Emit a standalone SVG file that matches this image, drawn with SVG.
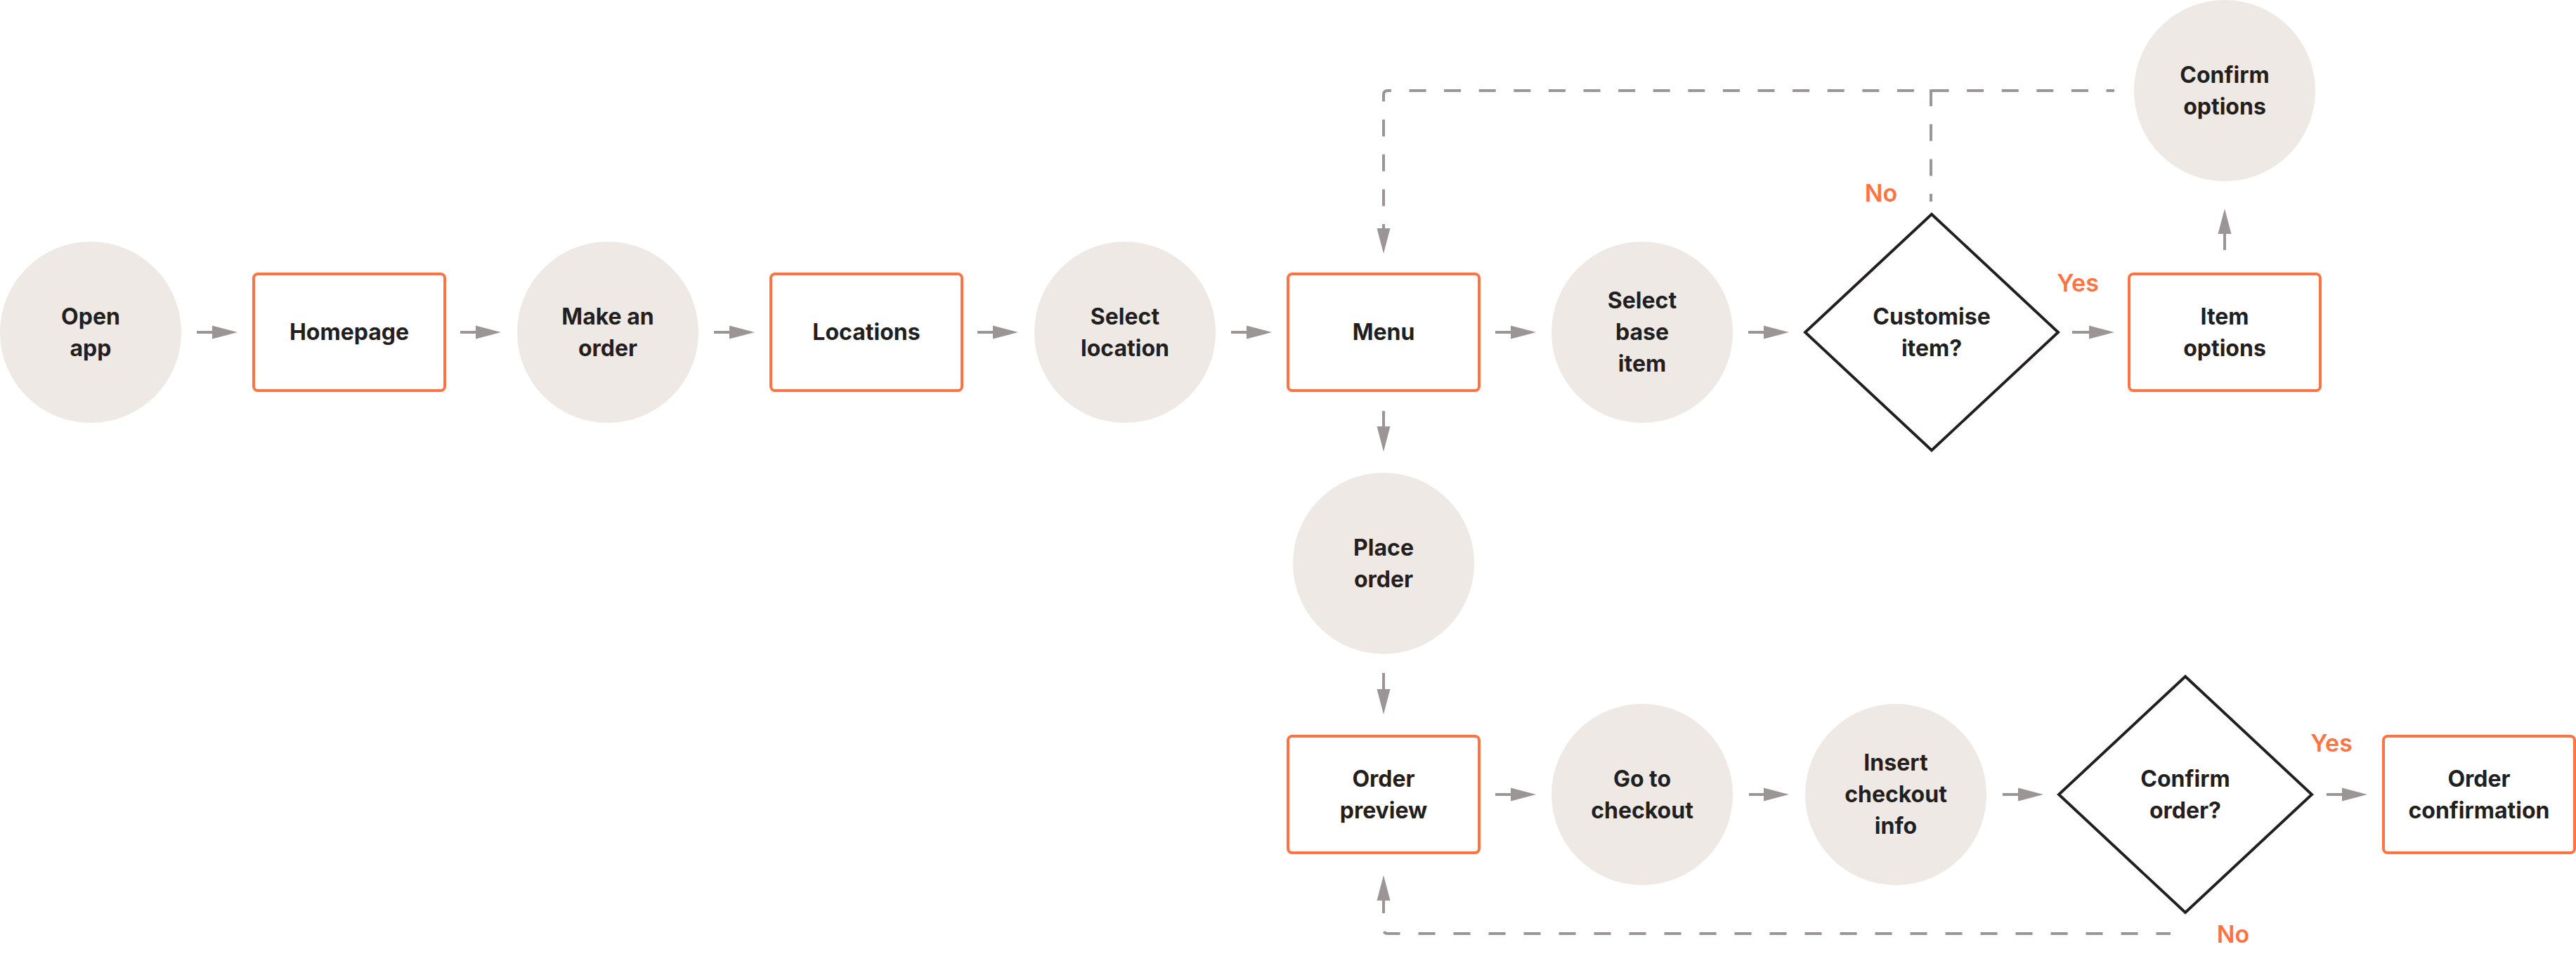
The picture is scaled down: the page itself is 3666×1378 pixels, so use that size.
<svg xmlns="http://www.w3.org/2000/svg" width="3666" height="1378" viewBox="0 0 3666 1378">
<defs>
<style>
.bg{fill:#ffffff}
.circ{fill:#EEE9E4}
.box{fill:#ffffff;stroke:#FF7241;stroke-width:4}
.dia{fill:#ffffff;stroke:#231F20;stroke-width:4;stroke-linejoin:miter}
.t{font-family:Inter,"Noto Sans","Liberation Sans",sans-serif;font-weight:700;font-size:32px;fill:#231F20;text-anchor:middle}
.lbl{font-family:Inter,"Noto Sans","Liberation Sans",sans-serif;font-weight:600;font-size:34px;fill:#FF7241;text-anchor:middle}
.arr{stroke:#9C9595;stroke-width:4;fill:none;marker-end:url(#ah)}
.dash{stroke:#9C9595;stroke-width:4;fill:none}
</style>
<marker id="ah" markerUnits="userSpaceOnUse" markerWidth="36" markerHeight="20" refX="0" refY="10" orient="auto" viewBox="0 0 36 20">
<path d="M0,0.5 L36,10 L0,19.5 Z" fill="#9C9595"/>
</marker>
</defs>
<rect class="bg" x="0" y="0" width="3666" height="1378"/>

<g id="connectors">
<line class="arr" x1="280" y1="473" x2="302" y2="473"/>
<line class="arr" x1="655" y1="473" x2="677" y2="473"/>
<line class="arr" x1="1016" y1="473" x2="1038" y2="473"/>
<line class="arr" x1="1391" y1="473" x2="1413" y2="473"/>
<line class="arr" x1="1752" y1="473" x2="1774" y2="473"/>
<line class="arr" x1="2128" y1="473" x2="2150" y2="473"/>
<line class="arr" x1="2488" y1="473" x2="2510" y2="473"/>
<line class="arr" x1="2949" y1="473" x2="2973" y2="473"/>
<line class="arr" x1="2128" y1="1131" x2="2150" y2="1131"/>
<line class="arr" x1="2489" y1="1131" x2="2510" y2="1131"/>
<line class="arr" x1="2850" y1="1131" x2="2872" y2="1131"/>
<line class="arr" x1="3311" y1="1131" x2="3333" y2="1131"/>
<line class="arr" x1="1969" y1="585" x2="1969" y2="607"/>
<line class="arr" x1="1969" y1="958" x2="1969" y2="981"/>
<line class="arr" x1="3166" y1="356" x2="3166" y2="333"/>
<line class="arr" x1="1969" y1="1300" x2="1969" y2="1282"/>
<line class="arr" x1="1969" y1="319" x2="1969" y2="325"/>
<path class="dash" d="M1969 319 V135 Q1969 129 1975 129 H3009" stroke-dasharray="24 25.6" stroke-dashoffset="24"/>
<path class="dash" d="M2748 287 V127" stroke-dasharray="24 25.6" stroke-dashoffset="13"/>
<path class="dash" d="M1969 1300 V1323 Q1969 1329 1975 1329 H3089" stroke-dasharray="24 26" stroke-dashoffset="24"/>
<text class="lbl" x="2677" y="287">No</text>
<text class="lbl" x="2957" y="415">Yes</text>
<text class="lbl" x="3318" y="1070">Yes</text>
<text class="lbl" x="3178" y="1342">No</text>
</g>

<g id="open-app"><circle class="circ" cx="129" cy="473" r="129"/><text class="t" x="129" y="462">Open<tspan x="129" dy="45">app</tspan></text></g>
<g id="homepage"><rect class="box" x="361" y="390" width="272" height="166" rx="6"/><text class="t" x="497" y="484">Homepage</text></g>
<g id="make-order"><circle class="circ" cx="865" cy="473" r="129"/><text class="t" x="865" y="462">Make an<tspan x="865" dy="45">order</tspan></text></g>
<g id="locations"><rect class="box" x="1097" y="390" width="272" height="166" rx="6"/><text class="t" x="1233" y="484">Locations</text></g>
<g id="select-location"><circle class="circ" cx="1601" cy="473" r="129"/><text class="t" x="1601" y="462">Select<tspan x="1601" dy="45">location</tspan></text></g>
<g id="menu"><rect class="box" x="1833" y="390" width="272" height="166" rx="6"/><text class="t" x="1969" y="484">Menu</text></g>
<g id="select-base-item"><circle class="circ" cx="2337" cy="473" r="129"/><text class="t" x="2337" y="439">Select<tspan x="2337" dy="45">base</tspan><tspan x="2337" dy="45">item</tspan></text></g>
<g id="customise-item"><polygon class="dia" points="2749,305 2929,473 2749,641 2569,473"/><text class="t" x="2749" y="462">Customise<tspan x="2749" dy="45">item?</tspan></text></g>
<g id="item-options"><rect class="box" x="3030" y="390" width="272" height="166" rx="6"/><text class="t" x="3166" y="462">Item<tspan x="3166" dy="45">options</tspan></text></g>
<g id="confirm-options"><circle class="circ" cx="3166" cy="129" r="129"/><text class="t" x="3166" y="118">Confirm<tspan x="3166" dy="45">options</tspan></text></g>
<g id="place-order"><circle class="circ" cx="1969" cy="802" r="129"/><text class="t" x="1969" y="791">Place<tspan x="1969" dy="45">order</tspan></text></g>
<g id="order-preview"><rect class="box" x="1833" y="1048" width="272" height="166" rx="6"/><text class="t" x="1969" y="1120">Order<tspan x="1969" dy="45">preview</tspan></text></g>
<g id="go-to-checkout"><circle class="circ" cx="2337" cy="1131" r="129"/><text class="t" x="2337" y="1120">Go to<tspan x="2337" dy="45">checkout</tspan></text></g>
<g id="insert-checkout-info"><circle class="circ" cx="2698" cy="1131" r="129"/><text class="t" x="2698" y="1097">Insert<tspan x="2698" dy="45">checkout</tspan><tspan x="2698" dy="45">info</tspan></text></g>
<g id="confirm-order"><polygon class="dia" points="3110,963 3290,1131 3110,1299 2930,1131"/><text class="t" x="3110" y="1120">Confirm<tspan x="3110" dy="45">order?</tspan></text></g>
<g id="order-confirmation"><rect class="box" x="3392" y="1048" width="272" height="166" rx="6"/><text class="t" x="3528" y="1120">Order<tspan x="3528" dy="45">confirmation</tspan></text></g>
</svg>
